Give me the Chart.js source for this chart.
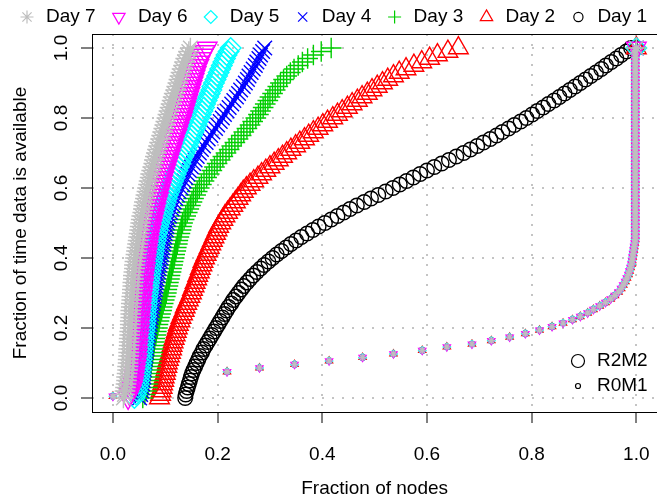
<!DOCTYPE html>
<html>
<head>
<meta charset="utf-8">
<script src="https://cdn.jsdelivr.net/npm/chart.js"></script>
<style>
  html, body { margin: 0; padding: 0; background: #fff; overflow: hidden; }
  canvas { display: block; }
</style>
</head>
<body>
<canvas id="availChart" width="670" height="498"></canvas>
<script>
// fraction of time data is available (y) for the R2M2 curves, the last 1.00 is the end point at x = 1
const fracTime = [
  0.00, 0.01, 0.02, 0.03, 0.04, 0.05, 0.06, 0.07, 0.08, 0.09,
  0.10, 0.11, 0.12, 0.13, 0.14, 0.15, 0.16, 0.17, 0.18, 0.19,
  0.20, 0.21, 0.22, 0.23, 0.24, 0.25, 0.26, 0.27, 0.28, 0.29,
  0.30, 0.31, 0.32, 0.33, 0.34, 0.35, 0.36, 0.37, 0.38, 0.39,
  0.40, 0.41, 0.42, 0.43, 0.44, 0.45, 0.46, 0.47, 0.48, 0.49,
  0.50, 0.51, 0.52, 0.53, 0.54, 0.55, 0.56, 0.57, 0.58, 0.59,
  0.60, 0.61, 0.62, 0.63, 0.64, 0.65, 0.66, 0.67, 0.68, 0.69,
  0.70, 0.71, 0.72, 0.73, 0.74, 0.75, 0.76, 0.77, 0.78, 0.79,
  0.80, 0.81, 0.82, 0.83, 0.84, 0.85, 0.86, 0.87, 0.88, 0.89,
  0.90, 0.91, 0.92, 0.93, 0.94, 0.95, 0.96, 0.97, 0.98, 0.99,
  1.00, 1.00
];

// fraction of nodes (x) for each day, R2M2
const day7Nodes = [
  0.020, 0.022, 0.023, 0.024, 0.025, 0.026, 0.026, 0.027, 0.028, 0.028,
  0.029, 0.029, 0.030, 0.030, 0.030, 0.031, 0.031, 0.031, 0.032, 0.032,
  0.033, 0.033, 0.033, 0.034, 0.034, 0.034, 0.035, 0.035, 0.036, 0.036,
  0.037, 0.037, 0.038, 0.038, 0.039, 0.039, 0.040, 0.041, 0.041, 0.042,
  0.043, 0.044, 0.045, 0.046, 0.047, 0.048, 0.049, 0.050, 0.051, 0.052,
  0.053, 0.054, 0.055, 0.057, 0.058, 0.059, 0.060, 0.062, 0.063, 0.065,
  0.066, 0.068, 0.069, 0.071, 0.072, 0.074, 0.076, 0.078, 0.079, 0.081,
  0.083, 0.085, 0.087, 0.089, 0.091, 0.093, 0.095, 0.097, 0.099, 0.101,
  0.103, 0.105, 0.107, 0.109, 0.111, 0.113, 0.115, 0.117, 0.120, 0.122,
  0.124, 0.126, 0.128, 0.130, 0.132, 0.135, 0.137, 0.139, 0.142, 0.145,
  0.148, 1.000
];
const day6Nodes = [
  0.029, 0.032, 0.035, 0.037, 0.039, 0.040, 0.041, 0.042, 0.043, 0.044,
  0.045, 0.046, 0.046, 0.047, 0.047, 0.048, 0.048, 0.049, 0.050, 0.050,
  0.051, 0.051, 0.052, 0.052, 0.053, 0.054, 0.054, 0.055, 0.055, 0.056,
  0.057, 0.057, 0.058, 0.059, 0.059, 0.060, 0.061, 0.062, 0.062, 0.063,
  0.064, 0.065, 0.066, 0.067, 0.068, 0.069, 0.070, 0.071, 0.073, 0.074,
  0.076, 0.077, 0.079, 0.080, 0.082, 0.083, 0.085, 0.087, 0.088, 0.090,
  0.092, 0.094, 0.095, 0.097, 0.099, 0.101, 0.103, 0.105, 0.107, 0.109,
  0.111, 0.113, 0.115, 0.117, 0.119, 0.122, 0.124, 0.126, 0.128, 0.131,
  0.133, 0.135, 0.137, 0.139, 0.141, 0.143, 0.145, 0.147, 0.149, 0.151,
  0.153, 0.155, 0.157, 0.159, 0.161, 0.164, 0.166, 0.169, 0.172, 0.176,
  0.180, 1.000
];
const day5Nodes = [
  0.041, 0.044, 0.046, 0.048, 0.049, 0.050, 0.051, 0.052, 0.053, 0.053,
  0.054, 0.055, 0.055, 0.056, 0.057, 0.057, 0.058, 0.059, 0.059, 0.060,
  0.061, 0.061, 0.062, 0.062, 0.063, 0.063, 0.064, 0.065, 0.065, 0.066,
  0.067, 0.068, 0.068, 0.069, 0.070, 0.071, 0.072, 0.073, 0.074, 0.075,
  0.076, 0.077, 0.078, 0.079, 0.080, 0.082, 0.083, 0.084, 0.086, 0.087,
  0.089, 0.091, 0.093, 0.095, 0.097, 0.099, 0.101, 0.103, 0.105, 0.108,
  0.110, 0.113, 0.115, 0.118, 0.120, 0.123, 0.126, 0.129, 0.131, 0.134,
  0.137, 0.140, 0.143, 0.145, 0.148, 0.151, 0.154, 0.157, 0.160, 0.162,
  0.165, 0.168, 0.171, 0.174, 0.176, 0.179, 0.182, 0.185, 0.188, 0.190,
  0.193, 0.196, 0.199, 0.202, 0.205, 0.208, 0.211, 0.214, 0.217, 0.221,
  0.225, 1.000
];
const day4Nodes = [
  0.051, 0.053, 0.055, 0.056, 0.057, 0.058, 0.059, 0.059, 0.060, 0.060,
  0.061, 0.062, 0.063, 0.064, 0.065, 0.065, 0.066, 0.067, 0.068, 0.069,
  0.070, 0.071, 0.072, 0.073, 0.074, 0.075, 0.076, 0.077, 0.078, 0.079,
  0.080, 0.081, 0.082, 0.083, 0.084, 0.086, 0.087, 0.088, 0.089, 0.091,
  0.092, 0.093, 0.094, 0.095, 0.097, 0.098, 0.099, 0.100, 0.102, 0.103,
  0.104, 0.106, 0.108, 0.110, 0.113, 0.115, 0.117, 0.120, 0.123, 0.126,
  0.130, 0.133, 0.136, 0.139, 0.143, 0.146, 0.150, 0.154, 0.157, 0.161,
  0.165, 0.169, 0.173, 0.178, 0.182, 0.187, 0.191, 0.196, 0.200, 0.205,
  0.209, 0.213, 0.218, 0.222, 0.227, 0.231, 0.236, 0.240, 0.244, 0.249,
  0.253, 0.257, 0.260, 0.264, 0.268, 0.272, 0.275, 0.279, 0.282, 0.286,
  0.290, 1.000
];
const day3Nodes = [
  0.057, 0.061, 0.064, 0.066, 0.067, 0.068, 0.069, 0.070, 0.071, 0.072,
  0.073, 0.074, 0.075, 0.076, 0.077, 0.078, 0.079, 0.080, 0.082, 0.083,
  0.085, 0.086, 0.088, 0.089, 0.091, 0.093, 0.094, 0.096, 0.098, 0.100,
  0.102, 0.103, 0.105, 0.106, 0.108, 0.109, 0.111, 0.112, 0.114, 0.115,
  0.117, 0.118, 0.120, 0.121, 0.123, 0.124, 0.126, 0.128, 0.130, 0.131,
  0.133, 0.136, 0.139, 0.142, 0.145, 0.148, 0.151, 0.154, 0.158, 0.161,
  0.165, 0.169, 0.174, 0.179, 0.184, 0.189, 0.194, 0.199, 0.205, 0.210,
  0.216, 0.222, 0.227, 0.233, 0.239, 0.245, 0.250, 0.256, 0.262, 0.267,
  0.273, 0.278, 0.282, 0.287, 0.291, 0.296, 0.300, 0.305, 0.310, 0.315,
  0.320, 0.326, 0.332, 0.339, 0.346, 0.354, 0.362, 0.372, 0.383, 0.398,
  0.417, 1.000
];
const day2Nodes = [
  0.089, 0.091, 0.092, 0.094, 0.095, 0.097, 0.098, 0.100, 0.101, 0.103,
  0.104, 0.106, 0.108, 0.110, 0.112, 0.113, 0.115, 0.117, 0.119, 0.121,
  0.123, 0.125, 0.128, 0.130, 0.133, 0.136, 0.138, 0.141, 0.144, 0.147,
  0.150, 0.152, 0.155, 0.157, 0.160, 0.162, 0.165, 0.167, 0.170, 0.172,
  0.175, 0.178, 0.181, 0.184, 0.187, 0.190, 0.193, 0.196, 0.199, 0.202,
  0.206, 0.210, 0.214, 0.219, 0.224, 0.229, 0.234, 0.239, 0.244, 0.249,
  0.255, 0.262, 0.269, 0.277, 0.284, 0.292, 0.300, 0.308, 0.316, 0.324,
  0.332, 0.340, 0.349, 0.357, 0.366, 0.374, 0.383, 0.392, 0.401, 0.410,
  0.420, 0.429, 0.438, 0.448, 0.457, 0.467, 0.476, 0.486, 0.495, 0.505,
  0.515, 0.525, 0.536, 0.547, 0.560, 0.575, 0.590, 0.605, 0.620, 0.640,
  0.660, 1.000
];
const day1Nodes = [
  0.138, 0.139, 0.141, 0.143, 0.145, 0.147, 0.149, 0.151, 0.154, 0.157,
  0.160, 0.163, 0.166, 0.170, 0.173, 0.177, 0.181, 0.185, 0.189, 0.193,
  0.197, 0.201, 0.205, 0.209, 0.213, 0.217, 0.221, 0.226, 0.230, 0.235,
  0.240, 0.245, 0.250, 0.256, 0.262, 0.268, 0.275, 0.282, 0.289, 0.297,
  0.305, 0.313, 0.322, 0.331, 0.340, 0.350, 0.360, 0.371, 0.382, 0.393,
  0.405, 0.417, 0.429, 0.441, 0.453, 0.466, 0.480, 0.493, 0.507, 0.521,
  0.535, 0.548, 0.561, 0.574, 0.587, 0.600, 0.614, 0.628, 0.642, 0.656,
  0.670, 0.683, 0.696, 0.708, 0.721, 0.733, 0.744, 0.756, 0.767, 0.779,
  0.790, 0.801, 0.811, 0.822, 0.832, 0.843, 0.853, 0.863, 0.873, 0.883,
  0.893, 0.903, 0.913, 0.923, 0.933, 0.942, 0.952, 0.962, 0.971, 0.981,
  0.990, 1.000
];

// R0M1 curve, the same for every day
const r0m1Nodes = [
  0.000, 0.218, 0.280, 0.347, 0.413, 0.477, 0.536, 0.591, 0.638, 0.686,
  0.723, 0.758, 0.788, 0.815, 0.839, 0.860, 0.878, 0.893, 0.907, 0.918,
  0.930, 0.941, 0.951, 0.959, 0.966, 0.971, 0.975, 0.979, 0.982, 0.985,
  0.987, 0.989, 0.991, 0.992, 0.993, 0.994, 0.995, 0.996, 0.997, 0.998,
  0.998, 0.998, 0.998, 0.998, 0.998, 0.998, 0.998, 0.998, 0.998, 0.998,
  0.998, 0.998, 0.998, 0.998, 0.998, 0.998, 0.998, 0.998, 0.998, 0.998,
  0.998, 0.998, 0.998, 0.998, 0.998, 0.998, 0.998, 0.998, 0.998, 0.998,
  0.998, 0.998, 0.998, 0.998, 0.998, 0.998, 0.998, 0.998, 0.998, 0.998,
  0.998, 0.998, 0.998, 0.998, 0.998, 0.998, 0.998, 0.998, 0.998, 0.998,
  0.998, 0.998, 0.998, 0.998, 1.000
];
const r0m1Time = [
  0.005, 0.075, 0.086, 0.096, 0.106, 0.116, 0.126, 0.136, 0.146, 0.154,
  0.164, 0.174, 0.184, 0.194, 0.204, 0.214, 0.224, 0.233, 0.243, 0.253,
  0.263, 0.273, 0.283, 0.293, 0.303, 0.313, 0.323, 0.333, 0.343, 0.353,
  0.363, 0.373, 0.383, 0.393, 0.403, 0.413, 0.423, 0.433, 0.443, 0.453,
  0.463, 0.473, 0.483, 0.493, 0.503, 0.513, 0.523, 0.533, 0.543, 0.553,
  0.563, 0.573, 0.583, 0.593, 0.603, 0.613, 0.623, 0.633, 0.643, 0.653,
  0.663, 0.673, 0.683, 0.693, 0.703, 0.713, 0.723, 0.733, 0.743, 0.753,
  0.763, 0.773, 0.783, 0.793, 0.803, 0.813, 0.823, 0.833, 0.843, 0.853,
  0.863, 0.873, 0.883, 0.893, 0.903, 0.913, 0.923, 0.933, 0.943, 0.953,
  0.963, 0.973, 0.983, 0.993, 1.000
];

const dayNames = ['Day 7', 'Day 6', 'Day 5', 'Day 4', 'Day 3', 'Day 2', 'Day 1'];
const dayNodes = [day7Nodes, day6Nodes, day5Nodes, day4Nodes, day3Nodes, day2Nodes, day1Nodes];
const xTickValues = [0, 0.2, 0.4, 0.6, 0.8, 1.0];
const yTickValues = [0, 0.2, 0.4, 0.6, 0.8, 1.0];
const sizeNames = ['R2M2', 'R0M1'];

// look of each day (R pch 8, 6, 5, 4, 3, 2, 1)
const dayColors = ['#BEBEBE', '#FF00FF', '#00FFFF', '#0000FF', '#00CD00', '#FF0000', '#000000'];
const dayMarkers = [
  { style: 'star', rot: 0, k: 1.414 },
  { style: 'triangle', rot: 180, k: 1.555 },
  { style: 'rectRot', rot: 0, k: 1.414 },
  { style: 'crossRot', rot: 0, k: 1.414 },
  { style: 'cross', rot: 0, k: 1.414 },
  { style: 'triangle', rot: 0, k: 1.555 },
  { style: 'circle', rot: 0, k: 1 }
];
const BIG = 7.3, SMALL = 2.6, LEG = 4.6;
const FONT = 'Liberation Sans, Arial, sans-serif';

function toPoints(xs, ys) {
  return xs.map((x, j) => ({ x: x, y: ys[j] }));
}

// dataset 0 is drawn on top, so Day 7 comes first
const datasets = [];
dayNames.forEach(function (name, i) {
  const m = dayMarkers[i];
  datasets.push({
    label: name + ' R0M1',
    data: toPoints(r0m1Nodes, r0m1Time),
    pointStyle: m.style, pointRotation: m.rot, pointRadius: m.k * SMALL,
    borderColor: dayColors[i], backgroundColor: 'rgba(0,0,0,0)',
    pointBorderWidth: 1.4, showLine: false
  });
  datasets.push({
    label: name + ' R2M2',
    data: toPoints(dayNodes[i], fracTime),
    pointStyle: m.style, pointRotation: m.rot, pointRadius: m.k * BIG,
    borderColor: dayColors[i], backgroundColor: 'rgba(0,0,0,0)',
    pointBorderWidth: 1.4, showLine: false
  });
});

// box, rotated y labels and the two legends, drawn like base R graphics
const rDecor = {
  id: 'rDecor',
  afterDraw(chart) {
    const ctx = chart.ctx;
    const a = chart.chartArea;
    ctx.save();
    ctx.strokeStyle = '#000';
    ctx.lineWidth = 1;
    ctx.strokeRect(Math.round(a.left) + 0.5, Math.round(a.top) + 0.5, a.right - a.left, a.bottom - a.top);

    ctx.fillStyle = '#000';
    ctx.font = '19px ' + FONT;
    ctx.textAlign = 'center';
    ctx.textBaseline = 'middle';
    yTickValues.forEach(function (v) {
      const py = chart.scales.y.getPixelForValue(v);
      ctx.save();
      ctx.translate(62, py);
      ctx.rotate(-Math.PI / 2);
      ctx.fillText(v.toFixed(1), 0, 0);
      ctx.restore();
    });

    // top legend
    ctx.textAlign = 'left';
    dayNames.forEach(function (name, i) {
      const m = dayMarkers[i];
      const mx = 27 + i * 91.9;
      ctx.strokeStyle = dayColors[i];
      ctx.fillStyle = 'rgba(0,0,0,0)';
      ctx.lineWidth = 1.2;
      Chart.helpers.drawPoint(ctx, { pointStyle: m.style, rotation: m.rot, radius: m.k * LEG, borderWidth: 1.2 }, mx, 17);
      ctx.fillStyle = '#000';
      ctx.fillText(name, mx + 19, 17);
    });

    // size legend
    [6.5, 2.5].forEach(function (r, i) {
      const ly = 361 + i * 25;
      ctx.strokeStyle = '#000';
      ctx.fillStyle = 'rgba(0,0,0,0)';
      Chart.helpers.drawPoint(ctx, { pointStyle: 'circle', rotation: 0, radius: r, borderWidth: 1.2 }, 578, ly);
      ctx.fillStyle = '#000';
      ctx.fillText(sizeNames[i], 597, ly);
    });
    ctx.restore();
  }
};

const gridLook = { color: '#c4c4c4', lineWidth: 2, tickColor: '#000', tickWidth: 1, tickLength: 11 };

const config = {
  type: 'scatter',
  data: { datasets: datasets },
  options: {
    responsive: false,
    animation: false,
    events: [],
    layout: { padding: { top: 34, right: 9, left: 0, bottom: 0 } },
    plugins: { legend: { display: false }, tooltip: { enabled: false } },
    scales: {
      x: {
        type: 'linear', min: -0.04, max: 1.04,
        afterBuildTicks: function (s) { s.ticks = xTickValues.map(v => ({ value: v })); },
        afterFit: function (s) { s.height = 86; },
        grid: gridLook,
        border: { display: false, dash: [2, 8] },
        ticks: {
          color: '#000', font: { family: FONT, size: 19 }, padding: 20,
          maxRotation: 0, autoSkip: false,
          callback: v => v.toFixed(1)
        },
        title: {
          display: true, text: 'Fraction of nodes', color: '#000',
          font: { family: FONT, size: 19 }, padding: { top: 0, bottom: -2 }
        }
      },
      y: {
        type: 'linear', min: -0.04, max: 1.04,
        afterBuildTicks: function (s) { s.ticks = yTickValues.map(v => ({ value: v })); },
        afterFit: function (s) { s.width = 92; },
        grid: gridLook,
        border: { display: false, dash: [2, 8] },
        ticks: { display: false },
        title: {
          display: true, text: 'Fraction of time data is available', color: '#000',
          font: { family: FONT, size: 19 }, padding: { top: 9, bottom: 0 }
        }
      }
    }
  },
  plugins: [rDecor]
};

new Chart(document.getElementById('availChart').getContext('2d'), config);
</script>
</body>
</html>
